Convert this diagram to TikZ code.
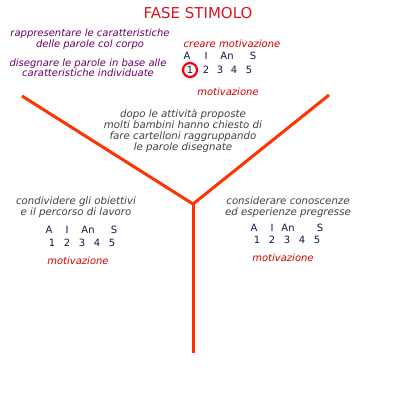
\documentclass[tikz,border=0pt]{standalone}
\usepackage{fontspec}
\setmainfont{DejaVu Sans}
\definecolor{branch}{RGB}{255,51,0}
\definecolor{titlered}{RGB}{220,20,30}
\definecolor{viola}{RGB}{102,0,102}
\definecolor{grigio}{RGB}{64,64,64}
\definecolor{blu}{RGB}{20,20,70}
\definecolor{rosso}{RGB}{210,0,0}
\tikzset{
  goal/.style={text=viola, align=center, font=\itshape\fontsize{10}{10.5}\selectfont, inner sep=0pt},
  note/.style={text=grigio, align=center, font=\itshape\fontsize{10.2}{10.8}\selectfont, inner sep=0pt},
  mot/.style={text=rosso, font=\itshape\fontsize{10}{10}\selectfont, inner sep=0pt},
  lev/.style={text=blu, font=\fontsize{10}{10}\selectfont, inner sep=0pt}
}
\begin{document}
\begin{tikzpicture}[x=1pt,y=-1pt]
\useasboundingbox (0,0) rectangle (400,400);
% the three branches
\coordinate (leftend) at (22,96);
\coordinate (rightend) at (329,95);
\coordinate (junction) at (193,204);
\coordinate (bottom) at (193,353);
\draw[branch, line width=3pt] (leftend) -- (junction) -- (rightend);
\draw[branch, line width=3pt] (junction) -- (bottom);
% title
\node[text=titlered, font=\fontsize{15}{18}\selectfont, inner sep=0pt] (title) at (198,13) {FASE STIMOLO};
% top left
\node[goal] (corpo) at (90,39) {rappresentare le caratteristiche\\delle parole col corpo};
\node[goal] (disegno) at (88,68) {disegnare le parole in base alle\\caratteristiche individuate};
% top right
\node[mot] (creare) at (232,44) {creare motivazione};
\foreach \t/\x in {A/187, I/206, An/227, S/253}
  \node[lev] (top\t) at (\x,56) {\t};
\foreach \n/\x in {1/190, 2/206, 3/220, 4/234, 5/249}
  \node[lev] (topn\n) at (\x,70) {\n};
\draw[red, line width=2.2pt] (topn1) circle [radius=7];
\node[mot] (topmot) at (228,92) {motivazione};
% middle
\node[note] (cartelloni) at (183,131) {dopo le attività proposte\\molti bambini hanno chiesto di\\fare cartelloni raggruppando\\le parole disegnate};
% left
\node[note] (condividere) at (76,207) {condividere gli obiettivi\\e il percorso di lavoro};
\foreach \t/\x in {A/49, I/67, An/88, S/114}
  \node[lev] (left\t) at (\x,230) {\t};
\foreach \n/\x in {1/52, 2/67, 3/82, 4/97, 5/112}
  \node[lev] (leftn\n) at (\x,243) {\n};
\node[mot] (leftmot) at (78,261) {motivazione};
% right
\node[note] (considerare) at (288,207) {considerare conoscenze\\ed esperienze pregresse};
\foreach \t/\x in {A/254, I/272, An/288, S/320}
  \node[lev] (right\t) at (\x,228) {\t};
\foreach \n/\x in {1/257, 2/272, 3/287, 4/302, 5/317}
  \node[lev] (rightn\n) at (\x,240) {\n};
\node[mot] (rightmot) at (283,258) {motivazione};
\end{tikzpicture}
\end{document}
